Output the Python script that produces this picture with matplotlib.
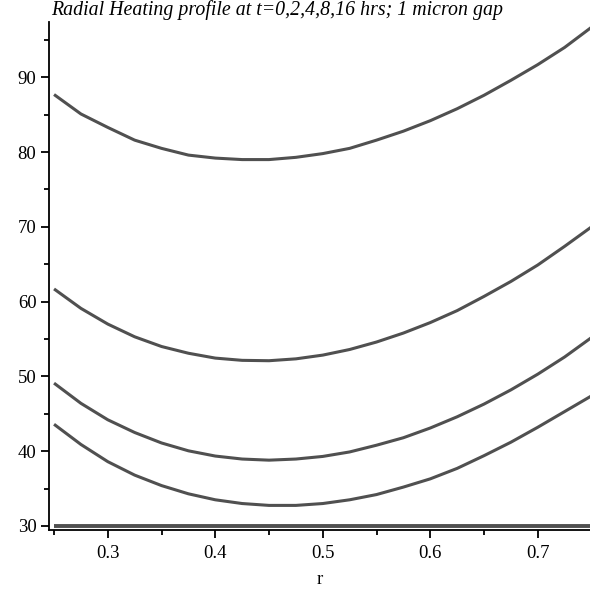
import matplotlib
matplotlib.use("Agg")
import matplotlib.pyplot as plt
from matplotlib.ticker import MultipleLocator

# radius grid and temperature profiles
r = [0.25, 0.275, 0.30, 0.325, 0.35, 0.375, 0.40, 0.425, 0.45, 0.475, 0.50,
     0.525, 0.55, 0.575, 0.60, 0.625, 0.65, 0.675, 0.70, 0.725, 0.75]
t0 = [30.0] * len(r)
t2 = [43.6, 40.9, 38.6, 36.8, 35.4, 34.3, 33.5, 33.0, 32.75, 32.75, 33.0,
      33.5, 34.2, 35.2, 36.3, 37.7, 39.4, 41.2, 43.2, 45.3, 47.4]
t4 = [49.1, 46.4, 44.2, 42.5, 41.1, 40.05, 39.35, 38.95, 38.8, 38.95, 39.3,
      39.9, 40.8, 41.8, 43.1, 44.6, 46.3, 48.2, 50.3, 52.6, 55.2]
t8 = [61.7, 59.1, 57.0, 55.3, 54.0, 53.1, 52.45, 52.15, 52.1, 52.35, 52.85,
      53.6, 54.6, 55.8, 57.2, 58.8, 60.7, 62.7, 64.9, 67.4, 70.0]
t16 = [87.7, 85.1, 83.3, 81.6, 80.5, 79.6, 79.2, 79.0, 79.0, 79.3, 79.8,
       80.5, 81.6, 82.8, 84.2, 85.8, 87.6, 89.6, 91.7, 94.0, 96.7]

plt.rcParams['font.family'] = ['Liberation Serif', 'DejaVu Serif']

fig = plt.figure(figsize=(5.9, 5.9), dpi=100)
ax = fig.add_axes([49 / 590, 60 / 590, 541 / 590, 508 / 590])

lineColor = '#505050'
ax.plot(r, t0, color=lineColor, lw=2.8, solid_capstyle='butt')
for ys in [t2, t4, t8, t16]:
    ax.plot(r, ys, color=lineColor, lw=2.2, solid_capstyle='butt')

ax.set_xlim(0.2453, 0.7486)
ax.set_ylim(29.46, 97.4)

ax.xaxis.set_major_locator(MultipleLocator(0.1))
ax.xaxis.set_minor_locator(MultipleLocator(0.05))
ax.yaxis.set_major_locator(MultipleLocator(10))
ax.yaxis.set_minor_locator(MultipleLocator(5))

for side in ['top', 'right']:
    ax.spines[side].set_visible(False)
for side in ['left', 'bottom']:
    ax.spines[side].set_linewidth(1.3)

ax.tick_params(which='major', direction='out', length=6, width=1.3,
               labelsize=13.5, pad=3)
ax.tick_params(which='minor', direction='out', length=3.5, width=1.3)
ax.tick_params(axis='x', which='major', pad=5)

ax.set_xlabel("r", fontsize=13.5, labelpad=6.5)

fig.text(51 / 590, 1 - 15 / 590,
         "Radial Heating profile at t=0,2,4,8,16 hrs; 1 micron gap",
         fontsize=14.3, style='italic', ha='left', va='baseline')

fig.savefig("out.png", dpi=100)
